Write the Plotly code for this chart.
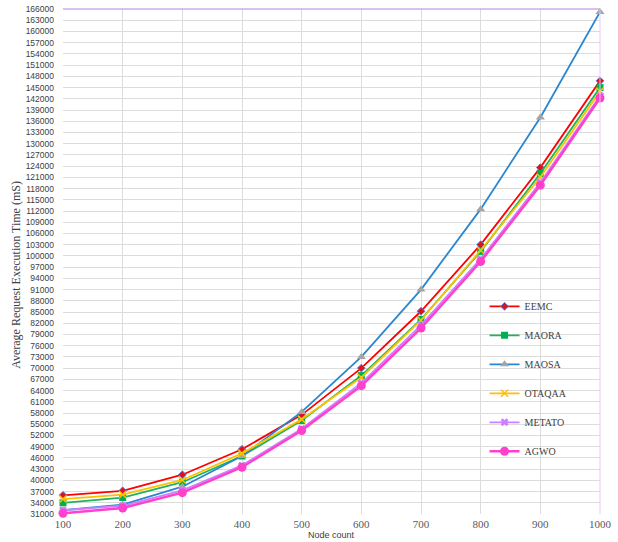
import plotly.graph_objects as go

node_count = [100, 200, 300, 400, 500, 600, 700, 800, 900, 1000]
eemc   = [36000, 37200, 41500, 48300, 57500, 70000, 85200, 103000, 123600, 146800]
maora  = [34000, 35400, 39500, 46500, 56000, 68000, 83000, 101200, 122000, 145000]
maosa  = [32000, 33500, 38300, 46500, 58300, 73000, 91000, 112500, 137000, 165200]
otaqaa = [35000, 36200, 40100, 47200, 56300, 67500, 82800, 101500, 121000, 144000]
metato = [32000, 33200, 37300, 44000, 53800, 66000, 81500, 99200, 119600, 142800]
agwo   = [31200, 32600, 36700, 43500, 53300, 65300, 80700, 98500, 118900, 142200]

y_ticks = list(range(31000, 166001, 3000))

series = [
    ("EEMC", eemc, "#FF0000", dict(symbol="diamond", size=6, color="#E01020", line=dict(color="#5B7FD0", width=1))),
    ("MAORA", maora, "#1FB45A", dict(symbol="square", size=7, color="#00B050")),
    ("MAOSA", maosa, "#2A86D0", dict(symbol="triangle-up", size=8, color="#A5A5A5")),
    ("OTAQAA", otaqaa, "#FFC000", dict(symbol="x-thin-open", size=7, color="#FFC000", line=dict(color="#FFC000", width=1.5))),
    ("METATO", metato, "#CC80FF", dict(symbol="x", size=7, color="#CC80FF", line=dict(width=0))),
    ("AGWO", agwo, "#FF40CC", dict(symbol="circle", size=9, color="#FF40CC")),
]

fig = go.Figure()
for name, vals, col, mk in series:
    fig.add_trace(go.Scatter(
        x=node_count, y=vals, name=name, mode="lines+markers",
        line=dict(color=col, width=1.8 if name != "AGWO" else 2.5),
        marker=mk, cliponaxis=False, legendgroup=name,
    ))

fig.update_layout(
    width=618, height=542,
    margin=dict(l=63, r=18, t=9, b=28, autoexpand=False),
    paper_bgcolor="white", plot_bgcolor="white",
    showlegend=True,
    legend=dict(
        x=0.785, y=0.44, xanchor="left", yanchor="top",
        font=dict(family="Liberation Serif", size=10, color="#404040"),
        tracegroupgap=10, bgcolor="rgba(0,0,0,0)",
    ),
    xaxis=dict(
        range=[100, 1000], tickmode="array", tickvals=node_count,
        ticktext=[str(v) for v in node_count],
        showgrid=True, gridcolor="#DCDCDC", gridwidth=1,
        zeroline=False, showline=False, ticks="", automargin=False,
        tickfont=dict(family="Liberation Serif", size=11, color="#595959"),
        ticklabelstandoff=2,
    ),
    yaxis=dict(
        range=[31000, 166000], tickmode="array", tickvals=y_ticks,
        ticktext=[str(v) for v in y_ticks],
        showgrid=True, gridcolor="#DCDCDC", gridwidth=1,
        zeroline=False, showline=False, ticks="", automargin=False,
        tickfont=dict(family="Liberation Sans", size=8.5, color="#404040"),
        ticklabelstandoff=8,
    ),
    annotations=[
        dict(text="Node count", xref="paper", yref="paper", x=0.5, y=0,
             xanchor="center", yanchor="middle", yshift=-21, showarrow=False,
             font=dict(family="Liberation Sans", size=9, color="#404040")),
        dict(text="Average Request Execution Time (mS)", xref="paper", yref="paper",
             x=-0.089, y=0.474, xanchor="center", yanchor="middle", textangle=-90,
             showarrow=False,
             font=dict(family="Liberation Serif", size=12, color="#404040")),
    ],
    shapes=[
        dict(type="line", xref="paper", yref="paper", x0=0, x1=1, y0=1, y1=1,
             line=dict(color="#B57EE0", width=1)),
        dict(type="line", xref="paper", yref="paper", x0=1, x1=1, y0=0, y1=1,
             line=dict(color="#E6CCF7", width=1)),
    ],
)

fig.write_html("out.html", config={"displayModeBar": False},
               post_script="document.body.style.margin='0';document.body.style.overflow='hidden';")
